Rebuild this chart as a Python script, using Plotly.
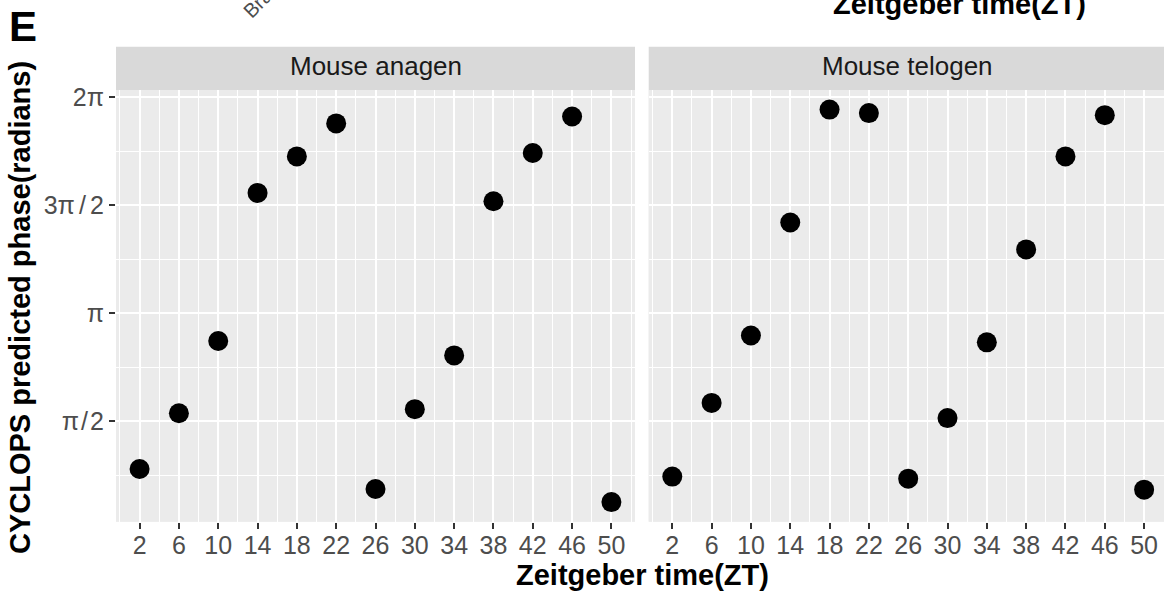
import math
import plotly.graph_objects as go

# ---- data ----
zt = [2, 6, 10, 14, 18, 22, 26, 30, 34, 38, 42, 46, 50]
anagen_phase = [0.88, 1.69, 2.74, 4.89, 5.42, 5.90, 0.59, 1.75, 2.53, 4.77, 5.47, 6.00, 0.40]
telogen_phase = [0.77, 1.84, 2.82, 4.46, 6.10, 6.05, 0.74, 1.62, 2.72, 4.07, 5.42, 6.02, 0.58]
panel_titles = ["Mouse anagen", "Mouse telogen"]
x_ticks = [2, 6, 10, 14, 18, 22, 26, 30, 34, 38, 42, 46, 50]
x_minor = [0, 4, 8, 12, 16, 20, 24, 28, 32, 36, 40, 44, 48, 52]
y_tickvals = [math.pi / 2, math.pi, 3 * math.pi / 2, 2 * math.pi]
y_ticktext = ["π\u200a/\u200a2", "π", "3π\u2006/\u20062", "2π"]
y_minor = [math.pi / 4, 3 * math.pi / 4, 5 * math.pi / 4, 7 * math.pi / 4]
x_title = "Zeitgeber time(ZT)"
y_title = "CYCLOPS predicted phase(radians)"

W, H = 1164, 592
FONT = "Liberation Sans, Arial, Helvetica, sans-serif"

def px(xp):
    return xp / W

def py(yp):
    return 1 - yp / H

panel_top, panel_bot = 90, 521.7
strip_top = 46.7
left_dom = [px(116), px(635)]
right_dom = [px(648.7), 1.0]

# y range with ggplot 5% expansion
allv = anagen_phase + telogen_phase
lo, hi = min(allv), max(allv)
pad = 0.05 * (hi - lo)
yrange = [lo - pad, hi + pad]

fig = go.Figure()
fig.add_trace(go.Scatter(x=zt, y=anagen_phase, mode="markers", xaxis="x", yaxis="y",
                         marker=dict(color="black", size=20, line=dict(width=0)),
                         showlegend=False))
fig.add_trace(go.Scatter(x=zt, y=telogen_phase, mode="markers", xaxis="x2", yaxis="y2",
                         marker=dict(color="black", size=20, line=dict(width=0)),
                         showlegend=False))

def xaxis(domain, rng):
    return dict(domain=domain, range=rng, tickmode="array", tickvals=x_ticks,
                ticktext=[str(v) for v in x_ticks], showgrid=True, gridcolor="white",
                gridwidth=2, zeroline=False, ticks="outside", ticklen=6, tickwidth=2,
                tickcolor="#333333", tickfont=dict(family=FONT, size=25, color="#4D4D4D"),
                ticklabelstandoff=-5, automargin=False,
                minor=dict(tickmode="array", tickvals=x_minor, showgrid=True,
                           gridcolor="white", gridwidth=1, ticklen=0),
                showline=False, fixedrange=True, anchor="y")

def yaxis(showlabels):
    return dict(domain=[py(panel_bot), py(panel_top)], range=yrange, tickmode="array",
                tickvals=y_tickvals, ticktext=y_ticktext, showticklabels=showlabels,
                showgrid=True, gridcolor="white", gridwidth=2, zeroline=False,
                ticks="outside" if showlabels else "", ticklen=6, tickwidth=2,
                tickcolor="#333333", tickfont=dict(family=FONT, size=25, color="#4D4D4D"),
                automargin=False,
                minor=dict(tickmode="array", tickvals=y_minor, showgrid=True,
                           gridcolor="white", gridwidth=1, ticklen=0),
                showline=False, fixedrange=True)

left_rng = [-0.4, 52.4]
scale = (635 - 116) / (left_rng[1] - left_rng[0])
right_rng = [-0.4, -0.4 + (W - 648.7) / scale]

x2 = xaxis(right_dom, right_rng)
x2["anchor"] = "y2"
y2 = yaxis(False)
y2["anchor"] = "x2"
y1 = yaxis(True)
y1["anchor"] = "x"

shapes = []
annotations = []
for dom, title in zip([left_dom, right_dom], panel_titles):
    shapes.append(dict(type="rect", xref="paper", yref="paper", x0=dom[0], x1=dom[1],
                       y0=py(panel_bot), y1=py(panel_top), fillcolor="#EBEBEB",
                       line=dict(width=0), layer="below"))
    shapes.append(dict(type="rect", xref="paper", yref="paper", x0=dom[0], x1=dom[1],
                       y0=py(panel_top), y1=py(strip_top), fillcolor="#D9D9D9",
                       line=dict(width=0), layer="below"))

annotations.append(dict(text=panel_titles[0], xref="paper", yref="paper",
                        x=px((116 + 635) / 2), y=py(66), showarrow=False,
                        font=dict(family=FONT, size=26, color="#1A1A1A"),
                        xanchor="center", yanchor="middle"))
annotations.append(dict(text=panel_titles[1], xref="paper", yref="paper",
                        x=px((648.7 + 1166) / 2), y=py(66), showarrow=False,
                        font=dict(family=FONT, size=26, color="#1A1A1A"),
                        xanchor="center", yanchor="middle"))
annotations.append(dict(text="<b>" + x_title + "</b>", xref="paper", yref="paper",
                        x=px(642), y=py(575), showarrow=False,
                        font=dict(family=FONT, size=29, color="black"),
                        xanchor="center", yanchor="middle"))
annotations.append(dict(text="<b>" + y_title + "</b>", xref="paper", yref="paper",
                        x=px(20), y=py(308), showarrow=False, textangle=-90,
                        font=dict(family=FONT, size=29, color="black"),
                        xanchor="center", yanchor="middle"))
annotations.append(dict(text="<b>E</b>", xref="paper", yref="paper",
                        x=px(22.5), y=py(26), showarrow=False,
                        font=dict(family=FONT, size=42, color="black"),
                        xanchor="center", yanchor="middle"))
# cropped title from the panel above
annotations.append(dict(text="<b>" + x_title + "</b>", xref="paper", yref="paper",
                        x=px(959), y=py(4), showarrow=False,
                        font=dict(family=FONT, size=29, color="black"),
                        xanchor="center", yanchor="middle"))
# cropped rotated labels from the panel above
annotations.append(dict(text="Brain", xref="paper", yref="paper",
                        x=px(263), y=py(-2), showarrow=False, textangle=-45,
                        font=dict(family=FONT, size=20, color="#4D4D4D"),
                        xanchor="center", yanchor="middle"))

fig.update_layout(
    template="none",
    width=W, height=H, margin=dict(l=0, r=0, t=0, b=0, pad=0),
    paper_bgcolor="white", plot_bgcolor="#EBEBEB",
    xaxis=xaxis(left_dom, left_rng), yaxis=y1, xaxis2=x2, yaxis2=y2,
    shapes=shapes, annotations=annotations, showlegend=False,
    font=dict(family=FONT),
)

fig.write_html("out.html")
